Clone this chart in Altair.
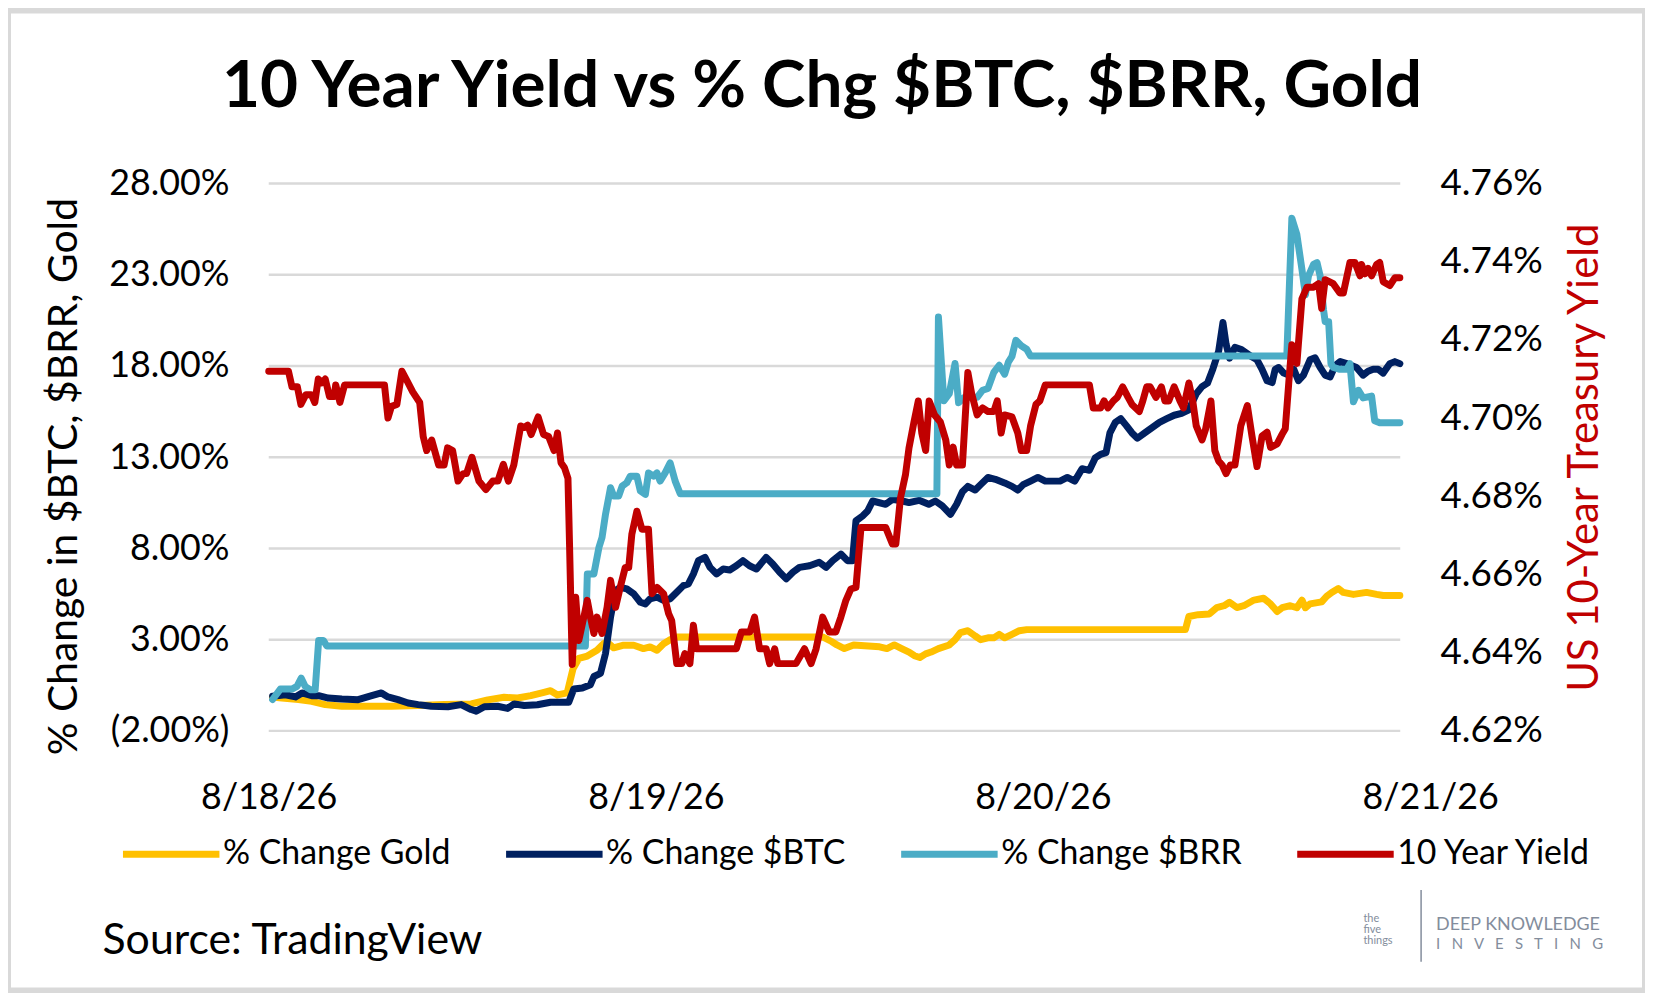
import altair as alt
import pandas as pd

# ---------------- data (days after 8/18/26, percent values) ----------------
gold_day = [0.010, 0.034, 0.077, 0.111, 0.146, 0.189, 0.231, 0.317, 0.386, 0.454,
            0.523, 0.566, 0.608, 0.643, 0.677, 0.711, 0.728, 0.746, 0.771, 0.786,
            0.801, 0.823, 0.848, 0.865, 0.874, 0.891, 0.917, 0.943, 0.968, 0.985,
            1.003, 1.020, 1.037, 1.054, 1.431, 1.454, 1.468, 1.487, 1.511, 1.549,
            1.578, 1.597, 1.616, 1.635, 1.654, 1.668, 1.682, 1.697, 1.711, 1.730,
            1.758, 1.773, 1.787, 1.806, 1.825, 1.839, 1.858, 1.873, 1.887, 1.901,
            1.920, 1.939, 1.958, 2.368, 2.377, 2.401, 2.430, 2.449, 2.468, 2.482,
            2.501, 2.519, 2.545, 2.570, 2.588, 2.605, 2.618, 2.639, 2.656, 2.669,
            2.678, 2.690, 2.720, 2.733, 2.746, 2.763, 2.776, 2.802, 2.836, 2.862,
            2.879, 2.922]
gold_pct = [-0.14, -0.20, -0.28, -0.38, -0.56, -0.65, -0.65, -0.65, -0.61, -0.56,
            -0.52, -0.30, -0.16, -0.20, -0.07, 0.11, 0.20, -0.03, 0.08, 1.40,
            1.97, 2.10, 2.42, 2.78, 2.87, 2.55, 2.70, 2.69, 2.51, 2.60,
            2.42, 2.78, 3.00, 3.15, 3.15, 2.90, 2.71, 2.51, 2.71, 2.65,
            2.61, 2.51, 2.71, 2.51, 2.32, 2.12, 2.02, 2.22, 2.32, 2.51,
            2.71, 3.00, 3.39, 3.49, 3.20, 3.00, 3.10, 3.10, 3.29, 3.10,
            3.29, 3.49, 3.55, 3.55, 4.27, 4.37, 4.41, 4.76, 4.86, 5.05,
            4.76, 4.86, 5.17, 5.27, 4.96, 4.54, 4.75, 4.86, 4.75, 5.17,
            4.75, 4.96, 5.07, 5.38, 5.59, 5.80, 5.59, 5.48, 5.59, 5.48,
            5.42, 5.42]

btc_day = [0.010, 0.043, 0.069, 0.086, 0.111, 0.129, 0.154, 0.189, 0.231, 0.266,
           0.291, 0.308, 0.334, 0.360, 0.386, 0.420, 0.463, 0.497, 0.523, 0.536,
           0.557, 0.591, 0.617, 0.634, 0.660, 0.694, 0.728, 0.775, 0.788, 0.810,
           0.831, 0.840, 0.857, 0.870, 0.883, 0.896, 0.908, 0.925, 0.943, 0.960,
           0.973, 0.985, 1.003, 1.020, 1.037, 1.054, 1.071, 1.084, 1.097, 1.110,
           1.127, 1.140, 1.157, 1.174, 1.191, 1.208, 1.225, 1.242, 1.260, 1.285,
           1.302, 1.320, 1.337, 1.354, 1.371, 1.397, 1.422, 1.440, 1.457, 1.478,
           1.495, 1.508, 1.517, 1.534, 1.547, 1.560, 1.594, 1.611, 1.637, 1.654,
           1.680, 1.705, 1.722, 1.740, 1.761, 1.777, 1.792, 1.806, 1.825, 1.839,
           1.858, 1.877, 1.901, 1.920, 1.935, 1.949, 1.968, 1.987, 2.006, 2.025,
           2.044, 2.063, 2.082, 2.101, 2.120, 2.135, 2.149, 2.163, 2.173, 2.187,
           2.201, 2.216, 2.230, 2.244, 2.263, 2.282, 2.301, 2.320, 2.339, 2.358,
           2.377, 2.396, 2.411, 2.425, 2.439, 2.454, 2.465, 2.473, 2.482, 2.496,
           2.511, 2.536, 2.553, 2.566, 2.579, 2.592, 2.600, 2.609, 2.622, 2.635,
           2.648, 2.660, 2.673, 2.690, 2.703, 2.716, 2.729, 2.742, 2.755, 2.768,
           2.785, 2.797, 2.810, 2.827, 2.840, 2.853, 2.866, 2.879, 2.896, 2.909,
           2.922]
btc_pct = [-0.10, -0.02, -0.14, 0.08, -0.07, -0.07, -0.20, -0.25, -0.29, -0.07,
           0.08, -0.14, -0.29, -0.47, -0.56, -0.65, -0.68, -0.56, -0.83, -0.92,
           -0.68, -0.65, -0.77, -0.52, -0.61, -0.57, -0.43, -0.43, 0.30, 0.35,
           0.53, 0.98, 1.15, 2.24, 4.24, 5.69, 5.87, 5.78, 5.51, 5.05,
           4.96, 5.24, 5.33, 5.15, 5.24, 5.60, 5.96, 6.05, 6.60, 7.33,
           7.51, 6.96, 6.60, 6.87, 6.82, 7.05, 7.33, 7.05, 6.87, 7.51,
           7.15, 6.69, 6.33, 6.69, 6.96, 7.05, 7.24, 6.96, 7.33, 7.69,
           7.33, 7.33, 9.51, 9.78, 10.05, 10.60, 10.42, 10.69, 10.60, 10.51,
           10.64, 10.42, 10.60, 10.33, 9.87, 10.42, 11.11, 11.40, 11.20, 11.50,
           11.89, 11.79, 11.59, 11.40, 11.20, 11.50, 11.69, 11.89, 11.69, 11.69,
           11.69, 11.89, 11.69, 12.37, 12.28, 12.96, 13.16, 13.25, 14.33, 14.91,
           15.11, 14.72, 14.33, 14.04, 14.33, 14.62, 14.91, 15.11, 15.30, 15.40,
           15.60, 16.48, 16.87, 17.06, 17.84, 18.82, 20.38, 19.21, 18.43, 19.02,
           18.92, 18.55, 18.34, 17.82, 17.19, 17.09, 17.82, 17.92, 17.61, 17.50,
           17.82, 17.19, 17.50, 18.34, 18.45, 17.92, 17.50, 17.40, 18.03, 18.24,
           18.13, 18.03, 17.92, 17.50, 17.71, 17.82, 17.82, 17.61, 18.13, 18.24,
           18.13]

brr_day = [0.010, 0.030, 0.060, 0.073, 0.084, 0.094, 0.107, 0.120, 0.129, 0.141,
           0.150, 0.818, 0.823, 0.840, 0.853, 0.861, 0.870, 0.883, 0.891, 0.904,
           0.913, 0.925, 0.934, 0.951, 0.960, 0.973, 0.981, 0.994, 1.003, 1.011,
           1.024, 1.037, 1.050, 1.063, 1.726, 1.730, 1.744, 1.758, 1.773, 1.782,
           1.797, 1.830, 1.844, 1.858, 1.873, 1.887, 1.901, 1.911, 1.920, 1.930,
           1.944, 1.958, 1.968, 2.630, 2.643, 2.656, 2.669, 2.678, 2.686, 2.699,
           2.708, 2.716, 2.725, 2.729, 2.738, 2.744, 2.750, 2.767, 2.785, 2.793,
           2.802, 2.815, 2.827, 2.849, 2.857, 2.870, 2.922]
brr_pct = [-0.28, 0.29, 0.29, 0.44, 0.89, 0.44, 0.26, 0.26, 2.96, 2.96,
           2.65, 2.65, 6.60, 6.60, 8.05, 8.60, 9.87, 11.33, 10.87, 10.87,
           11.42, 11.60, 11.96, 11.96, 11.15, 10.96, 12.14, 11.96, 12.14, 11.69,
           12.14, 12.69, 11.69, 11.00, 11.00, 20.68, 16.09, 16.48, 18.14, 15.99,
           16.28, 16.28, 16.67, 16.77, 17.65, 18.04, 17.55, 18.23, 18.53, 19.41,
           19.11, 18.92, 18.55, 18.55, 26.10, 25.20, 23.30, 21.90, 22.94, 23.57,
           23.67, 22.94, 21.06, 20.43, 20.43, 18.13, 17.92, 17.82, 17.82, 18.13,
           16.04, 16.67, 16.25, 16.35, 15.00, 14.89, 14.89]

yld_day = [0.000, 0.051, 0.060, 0.074, 0.083, 0.096, 0.110, 0.119, 0.128, 0.137,
           0.146, 0.157, 0.169, 0.173, 0.184, 0.196, 0.299, 0.308, 0.317, 0.331,
           0.344, 0.358, 0.372, 0.390, 0.399, 0.408, 0.421, 0.439, 0.453, 0.462,
           0.475, 0.489, 0.502, 0.511, 0.525, 0.543, 0.561, 0.579, 0.592, 0.606,
           0.619, 0.633, 0.651, 0.660, 0.669, 0.678, 0.696, 0.710, 0.723, 0.737,
           0.746, 0.755, 0.764, 0.773, 0.777, 0.784, 0.793, 0.801, 0.814, 0.823,
           0.831, 0.840, 0.848, 0.861, 0.874, 0.883, 0.896, 0.908, 0.921, 0.930,
           0.938, 0.951, 0.964, 0.981, 0.990, 1.003, 1.020, 1.033, 1.041, 1.054,
           1.067, 1.075, 1.088, 1.097, 1.105, 1.208, 1.221, 1.243, 1.255, 1.268,
           1.285, 1.294, 1.307, 1.315, 1.362, 1.384, 1.401, 1.414, 1.431, 1.448,
           1.465, 1.478, 1.491, 1.504, 1.517, 1.530, 1.594, 1.611, 1.620, 1.632,
           1.645, 1.654, 1.667, 1.678, 1.687, 1.697, 1.706, 1.720, 1.735, 1.749,
           1.758, 1.768, 1.777, 1.792, 1.806, 1.816, 1.830, 1.844, 1.858, 1.873,
           1.882, 1.892, 1.901, 1.920, 1.935, 1.944, 1.958, 1.968, 1.982, 1.992,
           2.006, 2.120, 2.130, 2.149, 2.158, 2.168, 2.182, 2.192, 2.206, 2.220,
           2.230, 2.249, 2.258, 2.268, 2.277, 2.292, 2.306, 2.315, 2.325, 2.339,
           2.354, 2.363, 2.377, 2.387, 2.396, 2.411, 2.420, 2.434, 2.444, 2.454,
           2.463, 2.473, 2.484, 2.496, 2.511, 2.528, 2.540, 2.553, 2.566, 2.579,
           2.588, 2.605, 2.618, 2.626, 2.635, 2.643, 2.656, 2.669, 2.682, 2.699,
           2.712, 2.720, 2.729, 2.750, 2.767, 2.776, 2.793, 2.806, 2.819, 2.823,
           2.832, 2.840, 2.849, 2.862, 2.870, 2.879, 2.896, 2.909, 2.922]
yld_pct = [4.712, 4.712, 4.708, 4.708, 4.7035, 4.706, 4.706, 4.704, 4.710, 4.709,
           4.710, 4.7055, 4.7055, 4.7085, 4.704, 4.7085, 4.7085, 4.700, 4.703, 4.7035,
           4.712, 4.7094, 4.7067, 4.704, 4.6953, 4.6917, 4.6944, 4.688, 4.688, 4.6924,
           4.6917, 4.6839, 4.6858, 4.6858, 4.690, 4.6839, 4.6817, 4.6839, 4.6839, 4.6882,
           4.6839, 4.688, 4.698, 4.6976, 4.6982, 4.6958, 4.7003, 4.6958, 4.6953, 4.6917,
           4.6962, 4.6886, 4.6873, 4.6846, 4.668, 4.637, 4.6542, 4.6431, 4.6491, 4.6534,
           4.6491, 4.6449, 4.6491, 4.6449, 4.6516, 4.6585, 4.6516, 4.6567, 4.6618, 4.6618,
           4.6703, 4.6762, 4.6716, 4.6716, 4.6551, 4.6567, 4.6551, 4.650, 4.6482, 4.6372,
           4.6372, 4.6398, 4.6372, 4.6470, 4.6410, 4.6410, 4.6453, 4.6453, 4.6491, 4.6410,
           4.6410, 4.6372, 4.6410, 4.6372, 4.6372, 4.6410, 4.6372, 4.6410, 4.6491, 4.6453,
           4.6453, 4.6491, 4.6534, 4.6563, 4.6567, 4.6720, 4.6720, 4.6678, 4.6678, 4.6796,
           4.6856, 4.6924, 4.6991, 4.7044, 4.6962, 4.6917, 4.7044, 4.7008, 4.6990, 4.6944,
           4.6880, 4.6926, 4.6880, 4.6880, 4.7117, 4.7062, 4.7008, 4.7026, 4.7017, 4.7017,
           4.7044, 4.6962, 4.7008, 4.7003, 4.6962, 4.6917, 4.6917, 4.6980, 4.7035, 4.7044,
           4.7085, 4.7085, 4.7026, 4.7026, 4.7044, 4.7026, 4.7044, 4.7053, 4.7080, 4.7053,
           4.7035, 4.7017, 4.7044, 4.7080, 4.7080, 4.7053, 4.7080, 4.7044, 4.7044, 4.7080,
           4.7044, 4.7026, 4.7090, 4.7044, 4.6980, 4.6944, 4.6971, 4.7044, 4.6917, 4.6890,
           4.6880, 4.6858, 4.6880, 4.6880, 4.6980, 4.7032, 4.6954, 4.6876, 4.6954, 4.6964,
           4.6925, 4.6934, 4.6959, 4.6973, 4.7090, 4.7188, 4.7140, 4.7305, 4.7335, 4.7335,
           4.7344, 4.7281, 4.7354, 4.7344, 4.7320, 4.7320, 4.7398, 4.7398, 4.7364, 4.7393,
           4.7369, 4.7383, 4.7364, 4.7393, 4.7398, 4.7349, 4.7339, 4.7359, 4.7359]

SERIES = ["% Change Gold", "% Change $BTC", "% Change $BRR", "10 Year Yield"]
COLORS = ["#FFC000", "#002060", "#4BACC6", "#C00000"]
left_ticks = [-2, 3, 8, 13, 18, 23, 28]
right_ticks = [4.62, 4.64, 4.66, 4.68, 4.70, 4.72, 4.74, 4.76]
x_ticks = [0, 1, 2, 3]
grid_end_day = 2.923
TITLE = "10 Year Yield vs % Chg $BTC, $BRR, Gold"


def frame(name, days, vals):
    assert len(days) == len(vals), name
    return pd.DataFrame({"day": days, "value": vals, "series": name})


df_gold = frame(SERIES[0], gold_day, gold_pct)
df_btc = frame(SERIES[1], btc_day, btc_pct)
df_brr = frame(SERIES[2], brr_day, brr_pct)
df_yld = frame(SERIES[3], yld_day, yld_pct)
df_grid = pd.DataFrame({"day": [0] * len(left_ticks), "day2": [grid_end_day] * len(left_ticks),
                        "value": left_ticks})

FONT = "Lato"
W, H = 1167, 550
PAD = {"left": 262, "top": 174, "right": 1645 - 262 - W, "bottom": 985 - 174 - H}

x_enc = alt.X(
    "day:Q",
    scale=alt.Scale(domain=[0, 3], nice=False, zero=False),
    axis=alt.Axis(values=x_ticks, labelExpr="'8/' + (18 + datum.value) + '/26'",
                  grid=False, domain=False, ticks=False, labelFont=FONT, labelFlush=False,
                  labelFontSize=36, labelColor="black", labelPadding=50, title=None),
)

left_axis = alt.Axis(
    values=left_ticks,
    labelExpr="datum.value < 0 ? '(' + format(-datum.value, '.2f') + '%)' : format(datum.value, '.2f') + '%'",
    grid=False, domain=False, ticks=False, labelFont=FONT, labelFontSize=36,
    labelColor="black", labelPadding=40,
    title="% Change in $BTC, $BRR, Gold", titleFont=FONT, titleFontSize=41,
    titleFontWeight="normal", titleColor="black", titleAngle=270,
    titleX=-205, titleY=H / 2 + 19, titleAlign="center", titleBaseline="middle",
)
left_y = alt.Y("value:Q", scale=alt.Scale(domain=[-2, 28], nice=False, zero=False),
               axis=left_axis)

right_axis = alt.Axis(
    orient="right", values=right_ticks,
    labelExpr="format(datum.value, '.2f') + '%'",
    grid=False, domain=False, ticks=False, labelFont=FONT, labelFontSize=37,
    labelColor="black", labelPadding=10, labelAlign="left",
    title="US 10-Year Treasury Yield", titleFont=FONT, titleFontSize=42,
    titleFontWeight="normal", titleColor="#C00000", titleAngle=270,
    titleX=155, titleY=H / 2, titleAlign="center", titleBaseline="middle",
)
right_y = alt.Y("value:Q", scale=alt.Scale(domain=[4.62, 4.76], nice=False, zero=False),
                axis=right_axis)

color_enc = alt.Color(
    "series:N",
    scale=alt.Scale(domain=SERIES, range=COLORS),
    legend=alt.Legend(
        orient="none", legendX=-150, legendY=622, direction="horizontal", title=None,
        symbolType="stroke", symbolStrokeWidth=7, symbolSize=9400,
        labelFont=FONT, labelFontSize=34, labelColor="black", labelOffset=0,
        columnPadding=41, labelLimit=500,
    ),
)

grid = alt.Chart(df_grid).mark_rule(color="#d9d9d9", strokeWidth=2.5).encode(
    x=x_enc, x2="day2:Q", y=left_y)


def line(df, y):
    return alt.Chart(df).mark_line(strokeWidth=7, strokeCap="round",
                                   strokeJoin="round").encode(x=x_enc, y=y, color=color_enc)


def note(text, px, py, size, color, weight="normal", align="left", baseline="middle"):
    return alt.Chart(pd.DataFrame({"t": [text]})).mark_text(
        font=FONT, fontSize=size, align=align, baseline=baseline, color=color,
        fontWeight=weight,
    ).encode(x=alt.value(px), y=alt.value(py), text="t:N")


LOGO = "#838d9c"
GAP = "\u00a0\u00a0\u00a0"
title = note(TITLE, 556, -77, 66, "black", weight="bold", align="center",
             baseline="alphabetic")
source = note("Source: TradingView", -167, 761, 43, "black")
logo_parts = [
    note("DEEP KNOWLEDGE", 1173, 745, 18, LOGO),
    note(GAP.join("INVESTING"), 1173, 764, 15, LOGO),
    note("the", 1100, 739, 11, LOGO),
    note("five", 1100, 750, 11, LOGO),
    note("things", 1100, 761, 11, LOGO),
]
bar = alt.Chart(pd.DataFrame({"a": [0]})).mark_rule(color=LOGO, strokeWidth=1.5).encode(
    x=alt.value(1158), y=alt.value(710), y2=alt.value(782))

border = alt.Chart(pd.DataFrame({"a": [0]})).mark_rect(
    fill=None, stroke="#d9d9d9", strokeWidth=6
).encode(x=alt.value(-PAD["left"]), x2=alt.value(W + PAD["right"]),
         y=alt.value(-PAD["top"]), y2=alt.value(H + PAD["bottom"]))

left_group = alt.layer(border, grid, line(df_gold, left_y), line(df_btc, left_y),
                       line(df_brr, left_y), title, source, bar, *logo_parts)
right_group = alt.layer(line(df_yld, right_y))

chart = alt.layer(left_group, right_group).resolve_scale(y="independent")

chart = chart.properties(
    width=W, height=H,
    autosize=alt.AutoSizeParams(type="none"),
    padding=PAD,
    background="white",
).configure_view(stroke=None)

chart.save("out.html", embed_options={"renderer": "svg", "actions": False})
